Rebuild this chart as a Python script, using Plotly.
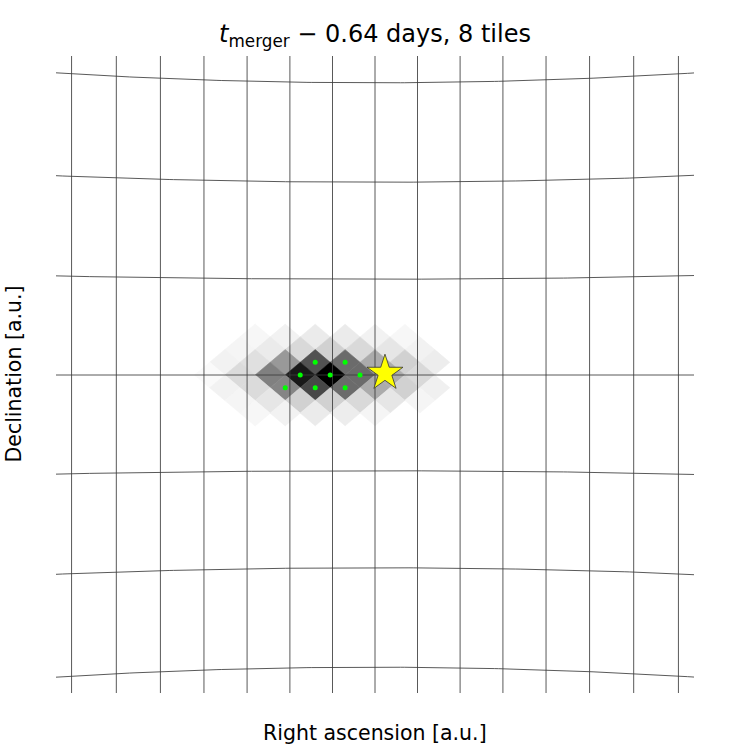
import numpy as np
import plotly.graph_objects as go

# ---------------- data ----------------
# graticule (sky coordinates, degrees)
grid_ra = [-14, -12, -10, -8, -6, -4, -2, 0, 2, 4, 6, 8, 10, 12, 14]
grid_dec = [-13.5, -9.0, -4.5, 0.0, 4.5, 9.0, 13.5]

# HEALPix-like probability pixels (nside 64 lattice), darkness 0..100
# ring index J -> (first pixel index I, values for I, I+2, ...)
map_rows = {
    3:  (-8,  [3, 5, 8, 8, 5, 3]),
    2:  (-9,  [4, 8, 15, 18, 15, 10, 5]),
    1:  (-10, [5, 12, 40, 68, 58, 33, 18, 7]),
    0:  (-11, [2, 14, 50, 90, 100, 58, 32, 15]),
    -1: (-10, [5, 14, 48, 72, 58, 33, 18, 6]),
    -2: (-9,  [4, 10, 18, 18, 15, 10, 4]),
    -3: (-8,  [3, 5, 8, 7, 4]),
}
NSIDE = 64

# tile centres (degrees)
tile_ra = [-2.8125, -1.40625, -3.515625, -2.109375, -0.703125, -4.21875, -2.8125, -1.40625]
tile_dec = [0.5968, 0.5968, 0.0, 0.0, 0.0, -0.5968, -0.5968, -0.5968]

# true source position (degrees)
star_ra = [0.47]
star_dec = [0.09]

TITLE = "<i>t</i><sub>merger</sub> − 0.64 days, 8 tiles"
XLABEL = "Right ascension [a.u.]"
YLABEL = "Declination [a.u.]"


# ------------- projection (gnomonic) -------------
def proj(ra_deg, dec_deg):
    ra = np.radians(np.asarray(ra_deg, dtype=float))
    dec = np.radians(np.asarray(dec_deg, dtype=float))
    return np.tan(ra), np.tan(dec) / np.cos(ra)


fig = go.Figure()

# probability pixels
dphi = np.degrees(np.pi / (4 * NSIDE))      # half horizontal diagonal
dz = 2.0 / (3 * NSIDE)                     # half vertical diagonal in z
for J, (I0, vals) in map_rows.items():
    for k, v in enumerate(vals):
        if v <= 0:
            continue
        I = I0 + 2 * k
        ra_c = I * dphi
        z_c = J * dz
        ras = [ra_c - dphi, ra_c, ra_c + dphi, ra_c, ra_c - dphi]
        zs = [z_c, z_c + dz, z_c, z_c - dz, z_c]
        decs = np.degrees(np.arcsin(zs))
        px, py = proj(ras, decs)
        g = int(round(255 * (1 - v / 100.0)))
        col = f"rgb({g},{g},{g})"
        fig.add_trace(go.Scatter(x=px, y=py, mode="lines", fill="toself",
                                 fillcolor=col, line=dict(color=col, width=0.6),
                                 hoverinfo="skip", showlegend=False))

# graticule
line_col = "rgba(60,60,60,0.85)"
dec_dense = np.linspace(-20, 20, 201)
for ra in grid_ra:
    px, py = proj(np.full_like(dec_dense, ra), dec_dense)
    fig.add_trace(go.Scatter(x=px, y=py, mode="lines",
                             line=dict(color=line_col, width=1),
                             hoverinfo="skip", showlegend=False))
ra_dense = np.linspace(-20, 20, 201)
for dec in grid_dec:
    px, py = proj(ra_dense, np.full_like(ra_dense, dec))
    fig.add_trace(go.Scatter(x=px, y=py, mode="lines",
                             line=dict(color=line_col, width=1),
                             hoverinfo="skip", showlegend=False))

# tile centres
tx, ty = proj(tile_ra, tile_dec)
fig.add_trace(go.Scatter(x=tx, y=ty, mode="markers",
                         marker=dict(color="#00ff00", size=5, line=dict(width=0)),
                         showlegend=False))

# source
sx, sy = proj(star_ra, star_dec)
fig.add_trace(go.Scatter(x=sx, y=sy, mode="markers",
                         marker=dict(symbol="star", color="#ffff00", size=27,
                                     line=dict(color="#333333", width=0.8)),
                         showlegend=False))

S = 1217.0
fig.update_layout(
    width=750, height=750,
    margin=dict(l=56, r=56, t=56, b=57),
    plot_bgcolor="white", paper_bgcolor="white",
    font=dict(family="DejaVu Sans", color="black"),
    xaxis=dict(range=[-319 / S, 319 / S], visible=False, showgrid=False, zeroline=False),
    yaxis=dict(range=[-318 / S, 319 / S], visible=False, showgrid=False, zeroline=False),
    title=dict(text=TITLE, x=0.5, xanchor="center", y=1 - 34 / 750, yanchor="middle",
               font=dict(size=24, family="DejaVu Sans", color="black")),
    annotations=[
        dict(text=XLABEL, xref="paper", yref="paper", x=0.5, y=-40 / 637,
             xanchor="center", yanchor="middle", showarrow=False,
             font=dict(size=20.5, family="DejaVu Sans", color="black")),
        dict(text=YLABEL, xref="paper", yref="paper", x=-43 / 638, y=0.5,
             xanchor="center", yanchor="middle", showarrow=False, textangle=-90,
             font=dict(size=20.5, family="DejaVu Sans", color="black")),
    ],
)

fig.write_html("out.html")
